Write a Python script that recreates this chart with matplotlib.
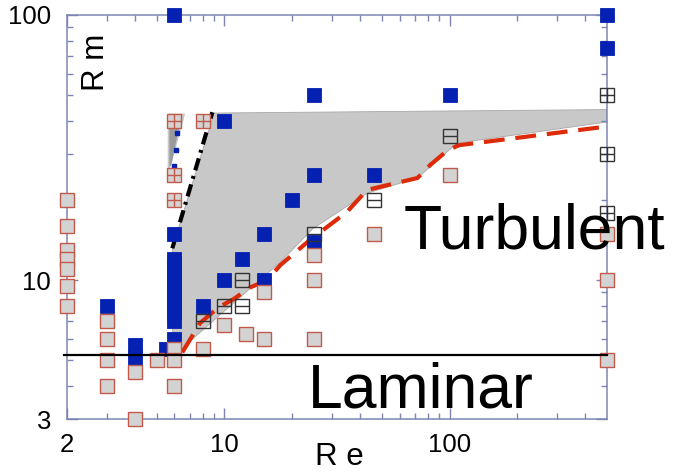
import matplotlib.pyplot as plt
import numpy as np

plt.rcParams['font.family'] = ['Liberation Sans', 'DejaVu Sans']

# --- data: (Re, Rm) points by run type ---
blue_re = [3, 4, 4, 5.5, 6, 6, 6, 6, 6, 6, 6, 6, 6, 6, 6, 6, 6, 6,
           8, 10, 10, 12, 15, 15, 20, 25, 25, 25, 46, 100, 500, 500]
blue_rm = [8, 5.7, 5.1, 5.5, 6, 7, 7.5, 8, 8.5, 9, 9.5, 10, 10.5, 11, 11.5, 12, 15, 100,
           8, 10, 40, 12, 10, 15, 20, 14, 25, 50, 25, 50, 75, 100]

lam_re = [2, 2, 2, 2, 2, 2, 2, 3, 3, 3, 3, 4, 4, 5, 6, 6, 6,
          8, 10, 12.5, 15, 15, 25, 25, 25, 46, 100, 500, 500, 500]
lam_rm = [20, 16, 13, 12, 11, 9.5, 8, 7, 6, 5, 4, 4.5, 3, 5, 5.5, 5, 4,
          5.5, 6.8, 6.3, 9, 6, 12.5, 10, 6, 15, 25, 15, 10, 5]

grid_re = [6, 6, 6, 8]
grid_rm = [40, 25, 20, 40]

half_re = [8, 10, 12, 12, 25, 46, 100]
half_rm = [7, 8, 8, 10, 15, 20, 35]

cross_re = [500, 500, 500]
cross_rm = [50, 30, 18]

small_re = [6.15, 6.1, 6.0]
small_rm = [36, 31, 27]

# boundary between the regimes
onset_re = [6.5, 7.8, 9.4, 11, 13, 15.5, 17.7, 24, 35, 43, 72, 82, 98, 110, 500]
onset_rm = [5.35, 6.9, 7.9, 8.5, 9.4, 10, 11.4, 14.2, 18.1, 21.9, 24.3, 27.2, 30.9, 32.3, 38]

dyn_re = [5.87, 8.84]
dyn_rm = [13.2, 43]

region_re = [9.0, 500, 500, 108, 72, 43, 24.8, 17.7, 6.85, 6.5, 5.9, 5.87]
region_rm = [42.7, 44, 39.5, 32.9, 24.3, 21.3, 15.7, 11.7, 5.78, 5.35, 5.35, 13.2]

sliver_re = [5.6, 6.7, 5.75, 5.6]
sliver_rm = [42.5, 42.5, 26.5, 26.5]
sliver2_re = [5.7, 6.3, 5.8, 5.7]
sliver2_rm = [38, 38, 27, 27]

rm_crit = 5.25

BLUE = '#0421b2'
RED_EDGE = '#c25a4c'
FACE = '#d3d3d3'
AXC = '#7d86b2'

fig = plt.figure(figsize=(6.77, 4.73), dpi=100)
ax = fig.add_axes([67/677, 1-419/473, 540/677, 404/473])
ax.set_xscale('log')
ax.set_yscale('log')
ax.set_xlim(2, 500)
ax.set_ylim(3, 100)

ax.fill(region_re, region_rm, facecolor='#c8c8c8', edgecolor='#a8a8a8', lw=0.6, zorder=1)
ax.fill(sliver_re, sliver_rm, facecolor='#c8c8c8', edgecolor='none', zorder=1)
ax.fill(sliver2_re, sliver2_rm, facecolor='#9a9a9a', edgecolor='none', zorder=1)

ax.plot(onset_re, onset_rm, color='#dd2a08', lw=3, dashes=(5, 2.6), zorder=2)
ax.plot(dyn_re, dyn_rm, color='black', lw=3, dashes=(3, 1.4, 0.7, 1.4), zorder=2)
ax.plot([1.93, 500], [rm_crit, rm_crit], color='black', lw=1.6, clip_on=False, zorder=5)

ms = 10.2
ax.plot(blue_re, blue_rm, 's', ms=ms, mfc=BLUE, mec=BLUE, mew=0.6, ls='none',
        clip_on=False, zorder=3)
ax.plot(small_re, small_rm, 's', ms=3.5, mfc=BLUE, mec=BLUE, ls='none', zorder=3)
ax.plot(lam_re, lam_rm, 's', ms=ms, mfc=FACE, mec=RED_EDGE, mew=1, ls='none',
        clip_on=False, zorder=4)
ax.plot(grid_re, grid_rm, 's', ms=ms, mfc=FACE, mec=RED_EDGE, mew=1, ls='none', zorder=4)
ax.plot(grid_re, grid_rm, '+', ms=ms, mec=RED_EDGE, mew=1, ls='none', zorder=4)
ax.plot(half_re, half_rm, 's', ms=ms, mfc='none', mec='#333333', mew=1, ls='none', zorder=4)
ax.plot(half_re, half_rm, '_', ms=ms, mec='#333333', mew=1, ls='none', zorder=4)
ax.plot(cross_re, cross_rm, 's', ms=ms, mfc='none', mec='#333333', mew=1, ls='none',
        clip_on=False, zorder=4)
ax.plot(cross_re, cross_rm, '+', ms=ms, mec='#333333', mew=1, ls='none',
        clip_on=False, zorder=4)

# axes styling
for s in ax.spines.values():
    s.set_color(AXC)
    s.set_linewidth(1.1)
ax.set_xticks([2, 10, 100])
ax.set_xticklabels(['2', '10', '100'])
ax.set_yticks([3, 10, 100])
ax.set_yticklabels(['3', '10', '100'])
ax.set_xticks([3, 4, 5, 6, 7, 8, 9, 20, 30, 40, 50, 60, 70, 80, 90, 200, 300, 400], minor=True)
ax.set_yticks([4, 5, 6, 7, 8, 9, 20, 30, 40, 50, 60, 70, 80, 90], minor=True)
ax.xaxis.set_minor_formatter(plt.NullFormatter())
ax.yaxis.set_minor_formatter(plt.NullFormatter())
ax.tick_params(which='both', direction='in', top=True, right=True, color=AXC,
               labelsize=18.5, width=1)
ax.tick_params(which='major', length=8)
ax.tick_params(which='minor', length=4.3)
ax.tick_params(axis='x', pad=10)
ax.tick_params(axis='y', pad=11.5)

fig.text(339/677, 1-465/473, 'R e', fontsize=22.5, ha='center', va='baseline')
fig.text(96/677, 1-62/473, 'R m', fontsize=22.5, ha='center', va='center', rotation=90)

ax.text(62.5, 13.2, 'Turbulent', fontsize=45, ha='left', va='baseline', zorder=6)
ax.text(23.4, 3.31, 'Laminar', fontsize=45, ha='left', va='baseline', zorder=6)

fig.savefig('out.png', dpi=100)
